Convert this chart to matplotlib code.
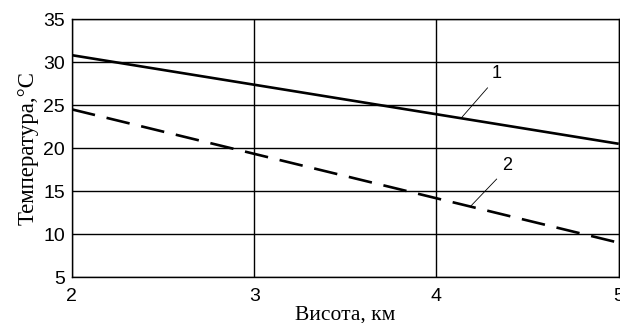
import numpy as np
import matplotlib
matplotlib.use("Agg")
import matplotlib.pyplot as plt

# data
height_km = [2, 5]
temp_1 = [30.8, 20.5]
temp_2 = [24.5, 9.0]
x_ticks = [2, 3, 4, 5]
y_ticks = [5, 10, 15, 20, 25, 30, 35]

fig = plt.figure(figsize=(6.2, 3.23), dpi=100, facecolor="white")
ax = fig.add_axes([0.116, 0.142, 0.882, 0.799])

ax.plot(height_km, temp_1, color="black", linewidth=1.9, solid_capstyle="butt")
ax.plot(height_km, temp_2, color="black", linewidth=1.9, dashes=(9, 4.5))

# curve labels with leader lines
ax.plot([4.14, 4.28], [23.6, 27.0], color="black", linewidth=0.6)
ax.text(4.33, 28.7, "1", fontsize=13, family="Liberation Sans", ha="center", va="center")
ax.plot([4.19, 4.33], [13.3, 16.4], color="black", linewidth=0.6)
ax.text(4.39, 18.0, "2", fontsize=13, family="Liberation Sans", ha="center", va="center")

ax.set_xlim(2, 5)
ax.set_ylim(5, 35)
ax.set_xticks(x_ticks)
ax.set_yticks(y_ticks)
ax.grid(True, color="black", linewidth=1.0)
ax.tick_params(length=0, labelsize=14)
ax.tick_params(axis="x", pad=8)
ax.tick_params(axis="y", pad=5)
for lab in ax.get_xticklabels() + ax.get_yticklabels():
    lab.set_family("Liberation Sans")
for s in ax.spines.values():
    s.set_linewidth(1.0)

ax.set_xlabel("Висота, км", fontsize=15.5, family="Liberation Serif", labelpad=0)
ax.set_ylabel("Температура,°С", fontsize=16.5, family="Liberation Serif", labelpad=3)

fig.savefig("out.png", dpi=100)
